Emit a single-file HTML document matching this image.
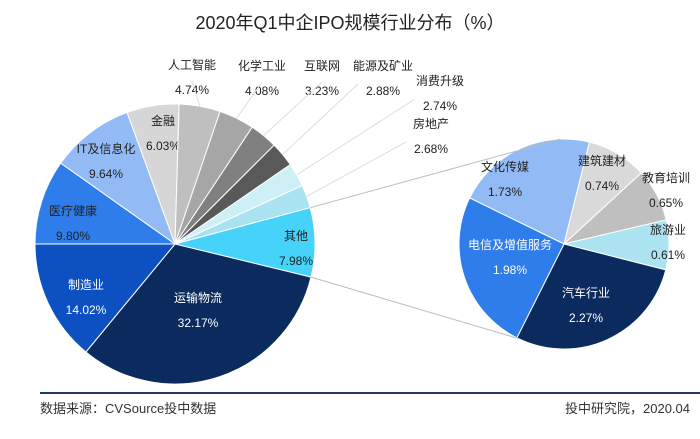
<!DOCTYPE html>
<html><head><meta charset="utf-8"><style>
body{margin:0;background:#fff;width:700px;height:434px;overflow:hidden;font-family:"Liberation Sans","Noto Sans CJK SC",sans-serif}
svg text{font-family:"Liberation Sans","Noto Sans CJK SC",sans-serif}
</style></head><body>
<svg id="c" width="700" height="434">
<text x="350" y="29" text-anchor="middle" font-size="18" fill="#222">2020年Q1中企IPO规模行业分布（%）</text>
<line x1="40" y1="393" x2="700" y2="393" stroke="#1f3b63" stroke-width="2"/>
<text x="40" y="413" font-size="13" fill="#333">数据来源：CVSource投中数据</text>
<text x="690" y="413" font-size="13" fill="#333" text-anchor="end">投中研究院，2020.04</text>
</svg>
<script>
const mainCats=["医疗健康","IT及信息化","金融","人工智能","化学工业","互联网","能源及矿业","消费升级","房地产","其他","运输物流","制造业"];
const mainVals=[9.80,9.64,6.03,4.74,4.08,3.23,2.88,2.74,2.68,7.98,32.17,14.02];
const subCats=["文化传媒","建筑建材","教育培训","旅游业","汽车行业","电信及增值服务"];
const subVals=[1.73,0.74,0.65,0.61,2.27,1.98];
const mainColors=["#2f7ceb","#92bbf6","#d6d6d6","#bfbfbf","#a6a6a6","#808080","#595959","#cfeff6","#a9e2f0","#45d3fa","#0b2a5e","#0c50c2"];
const subColors=["#92bbf6","#d9d9d9","#bfbfbf","#ace3f0","#0b2a5e","#2f7ceb"];
const mainLabelPos=[[73,215,"#222"],[106,153,"#222"],[163,125,"#222"],[192,69,"#222"],[262,70,"#222"],[322,70,"#222"],[383,70,"#222"],[440,85,"#222"],[431,128,"#222"],[296,240,"#222"],[198,302,"#fff"],[86,289,"#fff"]];
const subLabelPos=[[505,171,"#222"],[602,165,"#222"],[666,182,"#222"],[668,234,"#222"],[586,297,"#fff"],[510,249,"#fff"]];
const svg=document.getElementById('c');
const NS='http://www.w3.org/2000/svg';
function mk(t,a){const e=document.createElementNS(NS,t);for(const k in a)e.setAttribute(k,a[k]);svg.appendChild(e);return e;}
function pt(cx,cy,r,deg){const a=deg*Math.PI/180;return [cx+r*Math.cos(a),cy+r*Math.sin(a)];}
function pie(cats,vals,colors,cx,cy,r,start,pos,prefix){
  const tot=vals.reduce((s,v)=>s+v,0);let a=start;const bounds=[];
  vals.forEach((v,i)=>{
    const sw=v/tot*360;const p1=pt(cx,cy,r,a),p2=pt(cx,cy,r,a+sw);
    const p=mk('path',{d:`M${cx},${cy}L${p1[0]},${p1[1]}A${r},${r} 0 ${sw>180?1:0} 1 ${p2[0]},${p2[1]}Z`,fill:colors[i],stroke:'#fff','stroke-width':1});
    
    
    bounds.push([a,a+sw]);
    const lp=pos[i];
    const t1=mk('text',{x:lp[0],y:lp[1],'text-anchor':'middle','font-size':12,fill:lp[2]});t1.textContent=cats[i];
    
    
    const t2=mk('text',{x:lp[0],y:lp[1]+25,'text-anchor':'middle','font-size':12,fill:lp[2]});t2.textContent=v.toFixed(2)+'%';
    
    
    a+=sw;
  });
  return bounds;
}
const mb=pie(mainCats,mainVals,mainColors,175,244,140,180,mainLabelPos,'main');
// leader lines for small outer slices
for(let i=3;i<=8;i++){
  const mid=(mb[i][0]+mb[i][1])/2;const p=pt(175,244,140,mid);const lp=mainLabelPos[i];
  const l=mk('line',{x1:p[0],y1:p[1],x2:lp[0]+(i>=6?-25:0),y2:lp[1]+(i>=6?14:12),stroke:'#ddd','stroke-width':1});
  
  
}
// secondary pie
const other=mb[9];
const sb=pie(subCats,subVals,subColors,564,244,105,206,subLabelPos,'sub');
const o1=pt(175,244,140,other[0]),o2=pt(175,244,140,other[1]);
const s1=pt(564,244,105,268),s2=pt(564,244,105,116);
const c1=mk('line',{x1:o1[0],y1:o1[1],x2:s1[0],y2:s1[1],stroke:'#bbb','stroke-width':1});


const c2=mk('line',{x1:o2[0],y1:o2[1],x2:s2[0],y2:s2[1],stroke:'#bbb','stroke-width':1});


// white mask below footer to clip pie bottom
</script>
</body></html>
